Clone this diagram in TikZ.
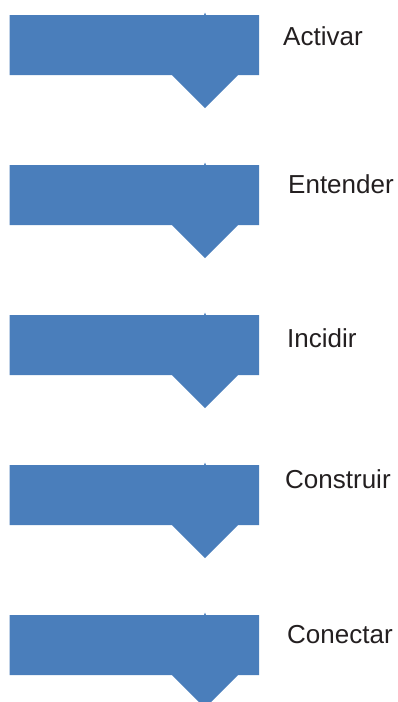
\documentclass[tikz,border=0pt]{standalone}
\usepackage{fontspec}
\setmainfont{Liberation Sans}
\definecolor{stepblue}{RGB}{74,126,187}
\definecolor{wordgray}{RGB}{35,31,32}

\begin{document}
\begin{tikzpicture}[
  x=1pt, y=-1pt,
  stage/.pic={
    \fill[stepblue] (9.5,15) -- (204,15) -- (205,12.5) -- (206,15) -- (259,15)
      -- (259,75) -- (238,75) -- (205,108) -- (172,75) -- (9.5,75) -- cycle;
  },
  word/.style={anchor=base west, inner sep=0pt, text=wordgray,
    font=\fontsize{26}{30}\selectfont}
]
\useasboundingbox (0,0) rectangle (397,702);
\begin{scope}
  \clip (0,0) rectangle (397,702);

  % Arrows (top to bottom)
  \pic at (0,0) {stage};
  \pic at (0,150) {stage};
  \pic at (0,300) {stage};
  \pic at (0,450) {stage};
  \pic at (0,600) {stage};
\end{scope}

% Labels
\node[word] (activar) at (283,45) {Activar};
\node[word] (entender) at (288,193) {Entender};
\node[word] (incidir) at (287,347) {Incidir};
\node[word] (construir) at (285,488) {Construir};
\node[word] (conectar) at (287,643) {Conectar};

\end{tikzpicture}
\end{document}
